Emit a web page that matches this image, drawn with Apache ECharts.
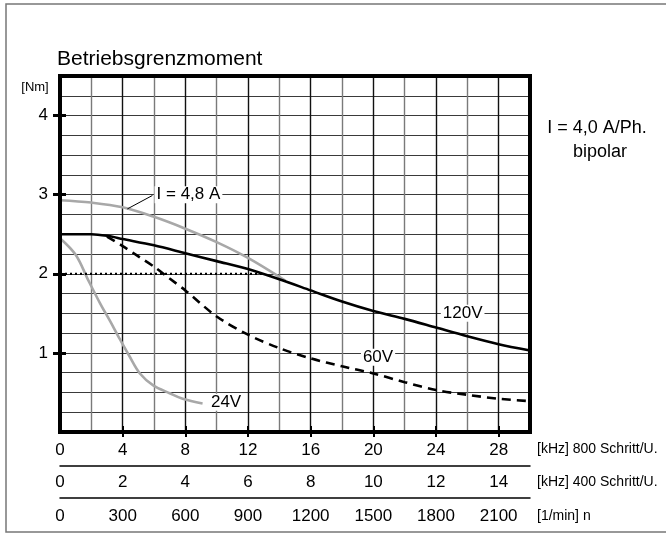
<!DOCTYPE html>
<html><head><meta charset="utf-8">
<script src="https://cdn.jsdelivr.net/npm/echarts@6/dist/echarts.min.js"></script>
<style>html,body{margin:0;padding:0;background:#fff}#c{width:666px;height:534px}</style>
</head><body><div id="c"></div><script>
const FONT = '"Liberation Sans", Arial, sans-serif';
const chartTitle = 'Betriebsgrenzmoment';
const yUnit = '[Nm]';
const yTickLabels = [1, 2, 3, 4];
const khz800Labels = [0, 4, 8, 12, 16, 20, 24, 28];
const khz800Ticks = [4, 8, 12, 16, 20, 24, 28];
const khz400Labels = [0, 2, 4, 6, 8, 10, 12, 14];
const rpmLabels = [0, 300, 600, 900, 1200, 1500, 1800, 2100];
const rowNames = ['[kHz] 800 Schritt/U.', '[kHz] 400 Schritt/U.', '[1/min] n'];
const noteLines = ['I = 4,0 A/Ph.', 'bipolar'];
// x: kHz (800 Schritt/U.), y: Nm
const v120 = [[0,2.5],[2,2.5],[3,2.48],[4,2.44],[6,2.36],[8,2.26],[10,2.16],[12,2.06],[14,1.93],[16,1.79],[18,1.65],[20,1.53],[22,1.43],[24,1.32],[26,1.21],[28,1.11],[30,1.03]];
const v60 = [[3,2.47],[4,2.35],[5,2.22],[6,2.09],[7,1.94],[8,1.79],[10,1.46],[12,1.23],[14,1.06],[16,0.93],[18,0.83],[20,0.74],[22,0.63],[24,0.53],[26,0.47],[28,0.42],[30,0.39]];
const v24 = [[0,2.45],[1,2.24],[1.8,1.92],[2.55,1.63],[3.2,1.4],[3.72,1.21],[4.4,0.97],[5.1,0.74],[5.95,0.59],[7,0.49],[7.83,0.42],[9.1,0.36]];
const i48 = [[0,2.93],[2,2.9],[4,2.84],[6,2.72],[8,2.57],[10,2.4],[12,2.2],[14.4,1.91]];
const limit2Nm = [[0,2],[12.9,2]];
const i48Leader = [[4.3,2.82],[5.9,2.99]];
const curveLabels = [
  {name: '120V', value: [25.7, 1.5]},
  {name: '60V', value: [20.3, 0.945]},
  {name: '24V', value: [10.6, 0.376]},
  {name: 'I = 4,8 A', value: [8.2, 3.0]}
];

const chart = echarts.init(document.getElementById('c'), null, {renderer: 'canvas'});
const base = {type: 'value', gridIndex: 0, position: 'bottom'};
const ybase = {type: 'value', gridIndex: 0, position: 'left', min: 0, max: 4.5};
const txt = {fontFamily: FONT, color: '#000'};
const plain = v => String(v);
const option = {
  animation: false,
  backgroundColor: '#fff',
  textStyle: {fontFamily: FONT},
  grid: {left: 60, top: 76, right: 136, bottom: 102, show: true, borderColor: '#000', borderWidth: 4, backgroundColor: 'transparent', z: 5},
  xAxis: [
    Object.assign({}, base, {min: 0, max: 30, interval: 2,
      axisLine: {show: false}, axisTick: {show: false}, axisLabel: {show: false},
      splitLine: {show: true, lineStyle: {color: ['#111', '#7a7a7a'], width: 1.4}}}),
    Object.assign({}, base, {min: 0, max: 30,
      axisLine: {show: false},
      axisTick: {show: true, customValues: khz800Ticks, length: 5, lineStyle: {color: '#000', width: 2}},
      axisLabel: {customValues: khz800Labels, formatter: plain, margin: 10, fontSize: 17, ...txt},
      splitLine: {show: false}}),
    Object.assign({}, base, {min: 0, max: 30,
      axisLine: {show: false},
      axisTick: {show: true, inside: true, customValues: khz800Ticks, length: 6, lineStyle: {color: '#000', width: 2}},
      axisLabel: {show: false}, splitLine: {show: false}}),
    Object.assign({}, base, {min: 0, max: 15, offset: 34,
      axisLine: {show: true, lineStyle: {color: '#000', width: 1.5}},
      axisTick: {show: false},
      axisLabel: {customValues: khz400Labels, formatter: plain, margin: 8, fontSize: 17, ...txt},
      splitLine: {show: false}}),
    Object.assign({}, base, {min: 0, max: 2250, offset: 66,
      axisLine: {show: true, lineStyle: {color: '#000', width: 1.5}},
      axisTick: {show: false},
      axisLabel: {customValues: rpmLabels, formatter: plain, margin: 10, fontSize: 17, ...txt},
      splitLine: {show: false}})
  ],
  yAxis: [
    Object.assign({}, ybase, {interval: 0.25,
      axisLine: {show: false}, axisTick: {show: false}, axisLabel: {show: false},
      splitLine: {show: true, lineStyle: {color: '#3a3a3a', width: 1.2}}}),
    Object.assign({}, ybase, {
      axisLine: {show: false},
      axisTick: {show: true, customValues: yTickLabels, length: 7, lineStyle: {color: '#000', width: 3}},
      axisLabel: {customValues: yTickLabels, formatter: plain, margin: 12, fontSize: 17, ...txt},
      splitLine: {show: false}}),
    Object.assign({}, ybase, {
      axisLine: {show: false},
      axisTick: {show: true, inside: true, customValues: yTickLabels, length: 6, lineStyle: {color: '#000', width: 3}},
      axisLabel: {show: false}, splitLine: {show: false}})
  ],
  series: [
    {name: 'I = 4,8 A', type: 'line', data: i48, smooth: 0.35, showSymbol: false, z: 3,
      lineStyle: {color: '#a8a8a8', width: 2.6}},
    {name: '24V', type: 'line', data: v24, smooth: 0.35, showSymbol: false, z: 3,
      lineStyle: {color: '#a8a8a8', width: 2.6}},
    {name: '2 Nm', type: 'line', data: limit2Nm, showSymbol: false, z: 3,
      lineStyle: {color: '#000', width: 2.2, type: [2, 3]}},
    {name: '60V', type: 'line', data: v60, smooth: 0.3, showSymbol: false, z: 4,
      lineStyle: {color: '#000', width: 2.6, type: [9, 6]}},
    {name: '120V', type: 'line', data: v120, smooth: 0.3, showSymbol: false, z: 4,
      lineStyle: {color: '#000', width: 2.6}},
    {name: 'leader', type: 'line', data: i48Leader, showSymbol: false, z: 4,
      lineStyle: {color: '#000', width: 1}},
    {name: 'labels', type: 'scatter', data: curveLabels, symbolSize: 1, z: 6,
      itemStyle: {color: '#fff', opacity: 1},
      emphasis: {disabled: true},
      label: {show: true, position: 'inside', formatter: '{b}', fontSize: 17, fontFamily: FONT, color: '#000',
        textBorderWidth: 0, textBorderColor: 'transparent', opacity: 1,
        backgroundColor: '#fff', padding: [0, 2]}}
  ],
  graphic: [
    {type: 'rect', shape: {x: 6, y: 4, width: 680, height: 528}, style: {fill: 'none', stroke: '#777', lineWidth: 1.5}, silent: true, z: -1},
    {type: 'text', x: 57, y: 59, style: {text: chartTitle, font: '21px ' + FONT, fill: '#000', textVerticalAlign: 'middle'}},
    {type: 'text', x: 35, y: 87, style: {text: yUnit, font: '13px ' + FONT, fill: '#000', textAlign: 'center', textVerticalAlign: 'middle'}},
    {type: 'text', x: 597, y: 128, style: {text: noteLines[0], font: '18px ' + FONT, fill: '#000', textAlign: 'center', textVerticalAlign: 'middle'}},
    {type: 'text', x: 600, y: 152, style: {text: noteLines[1], font: '18px ' + FONT, fill: '#000', textAlign: 'center', textVerticalAlign: 'middle'}},
    {type: 'text', x: 537, y: 449, style: {text: rowNames[0], font: '14px ' + FONT, fill: '#000', textVerticalAlign: 'middle'}},
    {type: 'text', x: 537, y: 482, style: {text: rowNames[1], font: '14px ' + FONT, fill: '#000', textVerticalAlign: 'middle'}},
    {type: 'text', x: 537, y: 516, style: {text: rowNames[2], font: '14px ' + FONT, fill: '#000', textVerticalAlign: 'middle'}}
  ]
};
chart.setOption(option);
</script></body></html>
